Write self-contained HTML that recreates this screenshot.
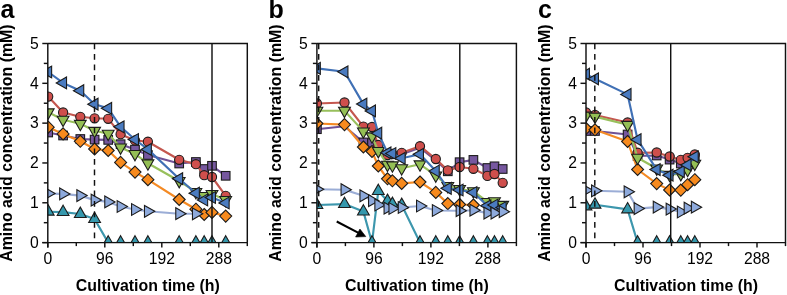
<!DOCTYPE html><html><head><meta charset="utf-8"><style>
html,body{margin:0;padding:0;background:#fff;width:787px;height:295px;overflow:hidden}
svg{display:block;will-change:transform} text{font-family:'Liberation Sans', sans-serif;fill:#000}
.tk{font-size:15.7px}.tt{font-size:15.9px;font-weight:bold}.yt{font-size:15.9px;font-weight:bold}.pl{font-size:25px;font-weight:bold}
</style></head><body>
<svg width="787" height="295" viewBox="0 0 787 295">
<clipPath id="clipa"><rect x="47.80" y="33.50" width="209.50" height="208.40"/></clipPath>
<clipPath id="clipLa"><rect x="47.80" y="33.50" width="209.50" height="207.85"/></clipPath>
<clipPath id="clipb"><rect x="316.90" y="33.50" width="209.50" height="208.40"/></clipPath>
<clipPath id="clipLb"><rect x="316.90" y="33.50" width="209.50" height="207.85"/></clipPath>
<clipPath id="clipc"><rect x="586.00" y="33.50" width="209.50" height="208.40"/></clipPath>
<clipPath id="clipLc"><rect x="586.00" y="33.50" width="209.50" height="207.85"/></clipPath>
<g clip-path="url(#clipa)">
<path d="M48.20 211.70L63.10 212.10L80.30 214.00L94.60 219.10L108.20 242.60L120.60 242.60L135.00 242.60L147.90 242.60L179.20 242.60L195.90 242.60L204.20 242.60L212.00 242.60L225.70 242.60" fill="none" stroke="#3d97ad" stroke-width="2.15" stroke-linejoin="round" clip-path="url(#clipLa)"/>
<path d="M48.20 204.83L54.10 215.13L42.30 215.13Z" fill="#3598ad" stroke="#1c1c1c" stroke-width="1.1" stroke-linejoin="miter"/>
<path d="M63.10 205.23L69.00 215.53L57.20 215.53Z" fill="#3598ad" stroke="#1c1c1c" stroke-width="1.1" stroke-linejoin="miter"/>
<path d="M80.30 207.13L86.20 217.43L74.40 217.43Z" fill="#3598ad" stroke="#1c1c1c" stroke-width="1.1" stroke-linejoin="miter"/>
<path d="M94.60 212.23L100.50 222.53L88.70 222.53Z" fill="#3598ad" stroke="#1c1c1c" stroke-width="1.1" stroke-linejoin="miter"/>
<path d="M108.20 235.73L114.10 246.03L102.30 246.03Z" fill="#3598ad" stroke="#1c1c1c" stroke-width="1.1" stroke-linejoin="miter"/>
<path d="M120.60 235.73L126.50 246.03L114.70 246.03Z" fill="#3598ad" stroke="#1c1c1c" stroke-width="1.1" stroke-linejoin="miter"/>
<path d="M135.00 235.73L140.90 246.03L129.10 246.03Z" fill="#3598ad" stroke="#1c1c1c" stroke-width="1.1" stroke-linejoin="miter"/>
<path d="M147.90 235.73L153.80 246.03L142.00 246.03Z" fill="#3598ad" stroke="#1c1c1c" stroke-width="1.1" stroke-linejoin="miter"/>
<path d="M179.20 235.73L185.10 246.03L173.30 246.03Z" fill="#3598ad" stroke="#1c1c1c" stroke-width="1.1" stroke-linejoin="miter"/>
<path d="M195.90 235.73L201.80 246.03L190.00 246.03Z" fill="#3598ad" stroke="#1c1c1c" stroke-width="1.1" stroke-linejoin="miter"/>
<path d="M204.20 235.73L210.10 246.03L198.30 246.03Z" fill="#3598ad" stroke="#1c1c1c" stroke-width="1.1" stroke-linejoin="miter"/>
<path d="M212.00 235.73L217.90 246.03L206.10 246.03Z" fill="#3598ad" stroke="#1c1c1c" stroke-width="1.1" stroke-linejoin="miter"/>
<path d="M225.70 235.73L231.60 246.03L219.80 246.03Z" fill="#3598ad" stroke="#1c1c1c" stroke-width="1.1" stroke-linejoin="miter"/>
<path d="M48.20 132.50L63.10 135.50L80.30 139.00L94.60 139.60L108.20 139.90L120.60 144.20L135.00 149.60L147.90 155.00L179.20 163.50L195.90 162.00L204.20 169.00L212.00 165.80L225.70 175.80" fill="none" stroke="#6f5296" stroke-width="2.15" stroke-linejoin="round" clip-path="url(#clipLa)"/>
<rect x="43.90" y="128.20" width="8.60" height="8.60" fill="#76579f" stroke="#1c1c1c" stroke-width="1.1"/>
<rect x="58.80" y="131.20" width="8.60" height="8.60" fill="#76579f" stroke="#1c1c1c" stroke-width="1.1"/>
<rect x="76.00" y="134.70" width="8.60" height="8.60" fill="#76579f" stroke="#1c1c1c" stroke-width="1.1"/>
<rect x="90.30" y="135.30" width="8.60" height="8.60" fill="#76579f" stroke="#1c1c1c" stroke-width="1.1"/>
<rect x="103.90" y="135.60" width="8.60" height="8.60" fill="#76579f" stroke="#1c1c1c" stroke-width="1.1"/>
<rect x="116.30" y="139.90" width="8.60" height="8.60" fill="#76579f" stroke="#1c1c1c" stroke-width="1.1"/>
<rect x="130.70" y="145.30" width="8.60" height="8.60" fill="#76579f" stroke="#1c1c1c" stroke-width="1.1"/>
<rect x="143.60" y="150.70" width="8.60" height="8.60" fill="#76579f" stroke="#1c1c1c" stroke-width="1.1"/>
<rect x="174.90" y="159.20" width="8.60" height="8.60" fill="#76579f" stroke="#1c1c1c" stroke-width="1.1"/>
<rect x="191.60" y="157.70" width="8.60" height="8.60" fill="#76579f" stroke="#1c1c1c" stroke-width="1.1"/>
<rect x="199.90" y="164.70" width="8.60" height="8.60" fill="#76579f" stroke="#1c1c1c" stroke-width="1.1"/>
<rect x="207.70" y="161.50" width="8.60" height="8.60" fill="#76579f" stroke="#1c1c1c" stroke-width="1.1"/>
<rect x="221.40" y="171.50" width="8.60" height="8.60" fill="#76579f" stroke="#1c1c1c" stroke-width="1.1"/>
<path d="M48.20 127.20L63.10 133.90L80.30 141.30L94.60 149.00L108.20 150.50L120.60 162.40L135.00 172.10L147.90 179.70L179.20 199.50L195.90 209.20L204.20 214.50L212.00 212.40L225.70 216.10" fill="none" stroke="#f48a24" stroke-width="2.15" stroke-linejoin="round" clip-path="url(#clipLa)"/>
<path d="M48.20 121.20L54.20 127.20L48.20 133.20L42.20 127.20Z" fill="#f78a1d" stroke="#1c1c1c" stroke-width="1.1" stroke-linejoin="miter"/>
<path d="M63.10 127.90L69.10 133.90L63.10 139.90L57.10 133.90Z" fill="#f78a1d" stroke="#1c1c1c" stroke-width="1.1" stroke-linejoin="miter"/>
<path d="M80.30 135.30L86.30 141.30L80.30 147.30L74.30 141.30Z" fill="#f78a1d" stroke="#1c1c1c" stroke-width="1.1" stroke-linejoin="miter"/>
<path d="M94.60 143.00L100.60 149.00L94.60 155.00L88.60 149.00Z" fill="#f78a1d" stroke="#1c1c1c" stroke-width="1.1" stroke-linejoin="miter"/>
<path d="M108.20 144.50L114.20 150.50L108.20 156.50L102.20 150.50Z" fill="#f78a1d" stroke="#1c1c1c" stroke-width="1.1" stroke-linejoin="miter"/>
<path d="M120.60 156.40L126.60 162.40L120.60 168.40L114.60 162.40Z" fill="#f78a1d" stroke="#1c1c1c" stroke-width="1.1" stroke-linejoin="miter"/>
<path d="M135.00 166.10L141.00 172.10L135.00 178.10L129.00 172.10Z" fill="#f78a1d" stroke="#1c1c1c" stroke-width="1.1" stroke-linejoin="miter"/>
<path d="M147.90 173.70L153.90 179.70L147.90 185.70L141.90 179.70Z" fill="#f78a1d" stroke="#1c1c1c" stroke-width="1.1" stroke-linejoin="miter"/>
<path d="M179.20 193.50L185.20 199.50L179.20 205.50L173.20 199.50Z" fill="#f78a1d" stroke="#1c1c1c" stroke-width="1.1" stroke-linejoin="miter"/>
<path d="M195.90 203.20L201.90 209.20L195.90 215.20L189.90 209.20Z" fill="#f78a1d" stroke="#1c1c1c" stroke-width="1.1" stroke-linejoin="miter"/>
<path d="M204.20 208.50L210.20 214.50L204.20 220.50L198.20 214.50Z" fill="#f78a1d" stroke="#1c1c1c" stroke-width="1.1" stroke-linejoin="miter"/>
<path d="M212.00 206.40L218.00 212.40L212.00 218.40L206.00 212.40Z" fill="#f78a1d" stroke="#1c1c1c" stroke-width="1.1" stroke-linejoin="miter"/>
<path d="M225.70 210.10L231.70 216.10L225.70 222.10L219.70 216.10Z" fill="#f78a1d" stroke="#1c1c1c" stroke-width="1.1" stroke-linejoin="miter"/>
<path d="M48.20 96.60L63.10 112.50L80.30 116.80L94.60 118.30L108.20 118.80L120.60 134.20L135.00 140.40L147.90 141.70L179.20 159.80L195.90 164.20L204.20 175.20L212.00 177.00L225.70 195.80" fill="none" stroke="#c4574f" stroke-width="2.15" stroke-linejoin="round" clip-path="url(#clipLa)"/>
<circle cx="48.20" cy="96.60" r="4.6" fill="#cf4f4c" stroke="#1c1c1c" stroke-width="1.1"/>
<circle cx="63.10" cy="112.50" r="4.6" fill="#cf4f4c" stroke="#1c1c1c" stroke-width="1.1"/>
<circle cx="80.30" cy="116.80" r="4.6" fill="#cf4f4c" stroke="#1c1c1c" stroke-width="1.1"/>
<circle cx="94.60" cy="118.30" r="4.6" fill="#cf4f4c" stroke="#1c1c1c" stroke-width="1.1"/>
<circle cx="108.20" cy="118.80" r="4.6" fill="#cf4f4c" stroke="#1c1c1c" stroke-width="1.1"/>
<circle cx="120.60" cy="134.20" r="4.6" fill="#cf4f4c" stroke="#1c1c1c" stroke-width="1.1"/>
<circle cx="135.00" cy="140.40" r="4.6" fill="#cf4f4c" stroke="#1c1c1c" stroke-width="1.1"/>
<circle cx="147.90" cy="141.70" r="4.6" fill="#cf4f4c" stroke="#1c1c1c" stroke-width="1.1"/>
<circle cx="179.20" cy="159.80" r="4.6" fill="#cf4f4c" stroke="#1c1c1c" stroke-width="1.1"/>
<circle cx="195.90" cy="164.20" r="4.6" fill="#cf4f4c" stroke="#1c1c1c" stroke-width="1.1"/>
<circle cx="204.20" cy="175.20" r="4.6" fill="#cf4f4c" stroke="#1c1c1c" stroke-width="1.1"/>
<circle cx="212.00" cy="177.00" r="4.6" fill="#cf4f4c" stroke="#1c1c1c" stroke-width="1.1"/>
<circle cx="225.70" cy="195.80" r="4.6" fill="#cf4f4c" stroke="#1c1c1c" stroke-width="1.1"/>
<path d="M48.20 112.30L63.10 119.70L80.30 123.80L94.60 130.80L108.20 133.70L120.60 147.40L135.00 153.90L147.90 163.30L179.20 181.00L195.90 191.90L204.20 196.00L212.00 193.90L225.70 200.00" fill="none" stroke="#98c05c" stroke-width="2.15" stroke-linejoin="round" clip-path="url(#clipLa)"/>
<path d="M48.20 119.17L54.10 108.87L42.30 108.87Z" fill="#94bf55" stroke="#1c1c1c" stroke-width="1.1" stroke-linejoin="miter"/>
<path d="M63.10 126.57L69.00 116.27L57.20 116.27Z" fill="#94bf55" stroke="#1c1c1c" stroke-width="1.1" stroke-linejoin="miter"/>
<path d="M80.30 130.67L86.20 120.37L74.40 120.37Z" fill="#94bf55" stroke="#1c1c1c" stroke-width="1.1" stroke-linejoin="miter"/>
<path d="M94.60 137.67L100.50 127.37L88.70 127.37Z" fill="#94bf55" stroke="#1c1c1c" stroke-width="1.1" stroke-linejoin="miter"/>
<path d="M108.20 140.57L114.10 130.27L102.30 130.27Z" fill="#94bf55" stroke="#1c1c1c" stroke-width="1.1" stroke-linejoin="miter"/>
<path d="M120.60 154.27L126.50 143.97L114.70 143.97Z" fill="#94bf55" stroke="#1c1c1c" stroke-width="1.1" stroke-linejoin="miter"/>
<path d="M135.00 160.77L140.90 150.47L129.10 150.47Z" fill="#94bf55" stroke="#1c1c1c" stroke-width="1.1" stroke-linejoin="miter"/>
<path d="M147.90 170.17L153.80 159.87L142.00 159.87Z" fill="#94bf55" stroke="#1c1c1c" stroke-width="1.1" stroke-linejoin="miter"/>
<path d="M179.20 187.87L185.10 177.57L173.30 177.57Z" fill="#94bf55" stroke="#1c1c1c" stroke-width="1.1" stroke-linejoin="miter"/>
<path d="M195.90 198.77L201.80 188.47L190.00 188.47Z" fill="#94bf55" stroke="#1c1c1c" stroke-width="1.1" stroke-linejoin="miter"/>
<path d="M204.20 202.87L210.10 192.57L198.30 192.57Z" fill="#94bf55" stroke="#1c1c1c" stroke-width="1.1" stroke-linejoin="miter"/>
<path d="M212.00 200.77L217.90 190.47L206.10 190.47Z" fill="#94bf55" stroke="#1c1c1c" stroke-width="1.1" stroke-linejoin="miter"/>
<path d="M225.70 206.87L231.60 196.57L219.80 196.57Z" fill="#94bf55" stroke="#1c1c1c" stroke-width="1.1" stroke-linejoin="miter"/>
<path d="M48.20 72.00L63.10 82.90L80.30 90.70L94.60 104.20L108.20 108.30L120.60 126.80L135.00 139.50L147.90 149.40L179.20 178.70L195.90 193.20L204.20 200.00L212.00 197.50L225.70 203.00" fill="none" stroke="#4070b5" stroke-width="2.15" stroke-linejoin="round" clip-path="url(#clipLa)"/>
<path d="M41.33 72.00L51.63 66.10L51.63 77.90Z" fill="#4a7bc0" stroke="#1c1c1c" stroke-width="1.1" stroke-linejoin="miter"/>
<path d="M56.23 82.90L66.53 77.00L66.53 88.80Z" fill="#4a7bc0" stroke="#1c1c1c" stroke-width="1.1" stroke-linejoin="miter"/>
<path d="M73.43 90.70L83.73 84.80L83.73 96.60Z" fill="#4a7bc0" stroke="#1c1c1c" stroke-width="1.1" stroke-linejoin="miter"/>
<path d="M87.73 104.20L98.03 98.30L98.03 110.10Z" fill="#4a7bc0" stroke="#1c1c1c" stroke-width="1.1" stroke-linejoin="miter"/>
<path d="M101.33 108.30L111.63 102.40L111.63 114.20Z" fill="#4a7bc0" stroke="#1c1c1c" stroke-width="1.1" stroke-linejoin="miter"/>
<path d="M113.73 126.80L124.03 120.90L124.03 132.70Z" fill="#4a7bc0" stroke="#1c1c1c" stroke-width="1.1" stroke-linejoin="miter"/>
<path d="M128.13 139.50L138.43 133.60L138.43 145.40Z" fill="#4a7bc0" stroke="#1c1c1c" stroke-width="1.1" stroke-linejoin="miter"/>
<path d="M141.03 149.40L151.33 143.50L151.33 155.30Z" fill="#4a7bc0" stroke="#1c1c1c" stroke-width="1.1" stroke-linejoin="miter"/>
<path d="M172.33 178.70L182.63 172.80L182.63 184.60Z" fill="#4a7bc0" stroke="#1c1c1c" stroke-width="1.1" stroke-linejoin="miter"/>
<path d="M189.03 193.20L199.33 187.30L199.33 199.10Z" fill="#4a7bc0" stroke="#1c1c1c" stroke-width="1.1" stroke-linejoin="miter"/>
<path d="M197.33 200.00L207.63 194.10L207.63 205.90Z" fill="#4a7bc0" stroke="#1c1c1c" stroke-width="1.1" stroke-linejoin="miter"/>
<path d="M205.13 197.50L215.43 191.60L215.43 203.40Z" fill="#4a7bc0" stroke="#1c1c1c" stroke-width="1.1" stroke-linejoin="miter"/>
<path d="M218.83 203.00L229.13 197.10L229.13 208.90Z" fill="#4a7bc0" stroke="#1c1c1c" stroke-width="1.1" stroke-linejoin="miter"/>
<path d="M48.20 193.60L63.10 193.90L80.30 195.60L94.60 200.10L108.20 201.90L120.60 206.50L135.00 209.50L147.90 211.30L179.20 213.70L195.90 213.80" fill="none" stroke="#9badd6" stroke-width="2.15" stroke-linejoin="round" clip-path="url(#clipLa)"/>
<path d="M55.07 193.60L44.77 187.70L44.77 199.50Z" fill="#8eaadc" stroke="#1c1c1c" stroke-width="1.1" stroke-linejoin="miter"/>
<path d="M69.97 193.90L59.67 188.00L59.67 199.80Z" fill="#8eaadc" stroke="#1c1c1c" stroke-width="1.1" stroke-linejoin="miter"/>
<path d="M87.17 195.60L76.87 189.70L76.87 201.50Z" fill="#8eaadc" stroke="#1c1c1c" stroke-width="1.1" stroke-linejoin="miter"/>
<path d="M101.47 200.10L91.17 194.20L91.17 206.00Z" fill="#8eaadc" stroke="#1c1c1c" stroke-width="1.1" stroke-linejoin="miter"/>
<path d="M115.07 201.90L104.77 196.00L104.77 207.80Z" fill="#8eaadc" stroke="#1c1c1c" stroke-width="1.1" stroke-linejoin="miter"/>
<path d="M127.47 206.50L117.17 200.60L117.17 212.40Z" fill="#8eaadc" stroke="#1c1c1c" stroke-width="1.1" stroke-linejoin="miter"/>
<path d="M141.87 209.50L131.57 203.60L131.57 215.40Z" fill="#8eaadc" stroke="#1c1c1c" stroke-width="1.1" stroke-linejoin="miter"/>
<path d="M154.77 211.30L144.47 205.40L144.47 217.20Z" fill="#8eaadc" stroke="#1c1c1c" stroke-width="1.1" stroke-linejoin="miter"/>
<path d="M186.07 213.70L175.77 207.80L175.77 219.60Z" fill="#8eaadc" stroke="#1c1c1c" stroke-width="1.1" stroke-linejoin="miter"/>
<path d="M202.77 213.80L192.47 207.90L192.47 219.70Z" fill="#8eaadc" stroke="#1c1c1c" stroke-width="1.1" stroke-linejoin="miter"/>
</g><g clip-path="url(#clipb)">
<path d="M316.90 205.00L344.50 204.10L363.40 211.60L372.00 242.60L378.30 191.10L387.50 201.00L392.40 204.00L401.70 205.00L420.00 242.60L435.80 242.60L447.80 242.60L459.60 242.60L473.40 242.60L487.40 242.60L494.50 242.60L502.70 242.60" fill="none" stroke="#3d97ad" stroke-width="2.15" stroke-linejoin="round" clip-path="url(#clipLb)"/>
<path d="M316.90 198.13L322.80 208.43L311.00 208.43Z" fill="#3598ad" stroke="#1c1c1c" stroke-width="1.1" stroke-linejoin="miter"/>
<path d="M344.50 197.23L350.40 207.53L338.60 207.53Z" fill="#3598ad" stroke="#1c1c1c" stroke-width="1.1" stroke-linejoin="miter"/>
<path d="M363.40 204.73L369.30 215.03L357.50 215.03Z" fill="#3598ad" stroke="#1c1c1c" stroke-width="1.1" stroke-linejoin="miter"/>
<path d="M372.00 235.73L377.90 246.03L366.10 246.03Z" fill="#3598ad" stroke="#1c1c1c" stroke-width="1.1" stroke-linejoin="miter"/>
<path d="M378.30 184.23L384.20 194.53L372.40 194.53Z" fill="#3598ad" stroke="#1c1c1c" stroke-width="1.1" stroke-linejoin="miter"/>
<path d="M387.50 194.13L393.40 204.43L381.60 204.43Z" fill="#3598ad" stroke="#1c1c1c" stroke-width="1.1" stroke-linejoin="miter"/>
<path d="M392.40 197.13L398.30 207.43L386.50 207.43Z" fill="#3598ad" stroke="#1c1c1c" stroke-width="1.1" stroke-linejoin="miter"/>
<path d="M401.70 198.13L407.60 208.43L395.80 208.43Z" fill="#3598ad" stroke="#1c1c1c" stroke-width="1.1" stroke-linejoin="miter"/>
<path d="M420.00 235.73L425.90 246.03L414.10 246.03Z" fill="#3598ad" stroke="#1c1c1c" stroke-width="1.1" stroke-linejoin="miter"/>
<path d="M435.80 235.73L441.70 246.03L429.90 246.03Z" fill="#3598ad" stroke="#1c1c1c" stroke-width="1.1" stroke-linejoin="miter"/>
<path d="M447.80 235.73L453.70 246.03L441.90 246.03Z" fill="#3598ad" stroke="#1c1c1c" stroke-width="1.1" stroke-linejoin="miter"/>
<path d="M459.60 235.73L465.50 246.03L453.70 246.03Z" fill="#3598ad" stroke="#1c1c1c" stroke-width="1.1" stroke-linejoin="miter"/>
<path d="M473.40 235.73L479.30 246.03L467.50 246.03Z" fill="#3598ad" stroke="#1c1c1c" stroke-width="1.1" stroke-linejoin="miter"/>
<path d="M487.40 235.73L493.30 246.03L481.50 246.03Z" fill="#3598ad" stroke="#1c1c1c" stroke-width="1.1" stroke-linejoin="miter"/>
<path d="M494.50 235.73L500.40 246.03L488.60 246.03Z" fill="#3598ad" stroke="#1c1c1c" stroke-width="1.1" stroke-linejoin="miter"/>
<path d="M502.70 235.73L508.60 246.03L496.80 246.03Z" fill="#3598ad" stroke="#1c1c1c" stroke-width="1.1" stroke-linejoin="miter"/>
<path d="M316.90 129.20L344.50 126.30L363.40 142.40L372.00 143.00L378.30 146.50L387.50 156.50L392.40 155.50L401.70 154.30L420.00 147.70L435.80 160.50L447.80 171.30L459.60 162.20L473.40 159.90L487.40 168.00L494.50 166.30L502.70 169.00" fill="none" stroke="#6f5296" stroke-width="2.15" stroke-linejoin="round" clip-path="url(#clipLb)"/>
<rect x="312.60" y="124.90" width="8.60" height="8.60" fill="#76579f" stroke="#1c1c1c" stroke-width="1.1"/>
<rect x="359.10" y="138.10" width="8.60" height="8.60" fill="#76579f" stroke="#1c1c1c" stroke-width="1.1"/>
<rect x="367.70" y="138.70" width="8.60" height="8.60" fill="#76579f" stroke="#1c1c1c" stroke-width="1.1"/>
<rect x="443.50" y="167.00" width="8.60" height="8.60" fill="#76579f" stroke="#1c1c1c" stroke-width="1.1"/>
<rect x="455.30" y="157.90" width="8.60" height="8.60" fill="#76579f" stroke="#1c1c1c" stroke-width="1.1"/>
<rect x="469.10" y="155.60" width="8.60" height="8.60" fill="#76579f" stroke="#1c1c1c" stroke-width="1.1"/>
<rect x="483.10" y="163.70" width="8.60" height="8.60" fill="#76579f" stroke="#1c1c1c" stroke-width="1.1"/>
<rect x="490.20" y="162.00" width="8.60" height="8.60" fill="#76579f" stroke="#1c1c1c" stroke-width="1.1"/>
<rect x="498.40" y="164.70" width="8.60" height="8.60" fill="#76579f" stroke="#1c1c1c" stroke-width="1.1"/>
<path d="M316.90 123.50L344.50 124.60L363.40 147.00L372.00 151.50L378.30 166.00L387.50 178.80L392.40 180.80L401.70 183.40L420.00 182.00L435.80 192.40L447.80 203.60L459.60 204.50L473.40 205.00" fill="none" stroke="#f48a24" stroke-width="2.15" stroke-linejoin="round" clip-path="url(#clipLb)"/>
<path d="M316.90 117.50L322.90 123.50L316.90 129.50L310.90 123.50Z" fill="#f78a1d" stroke="#1c1c1c" stroke-width="1.1" stroke-linejoin="miter"/>
<path d="M344.50 118.60L350.50 124.60L344.50 130.60L338.50 124.60Z" fill="#f78a1d" stroke="#1c1c1c" stroke-width="1.1" stroke-linejoin="miter"/>
<path d="M363.40 141.00L369.40 147.00L363.40 153.00L357.40 147.00Z" fill="#f78a1d" stroke="#1c1c1c" stroke-width="1.1" stroke-linejoin="miter"/>
<path d="M372.00 145.50L378.00 151.50L372.00 157.50L366.00 151.50Z" fill="#f78a1d" stroke="#1c1c1c" stroke-width="1.1" stroke-linejoin="miter"/>
<path d="M378.30 160.00L384.30 166.00L378.30 172.00L372.30 166.00Z" fill="#f78a1d" stroke="#1c1c1c" stroke-width="1.1" stroke-linejoin="miter"/>
<path d="M387.50 172.80L393.50 178.80L387.50 184.80L381.50 178.80Z" fill="#f78a1d" stroke="#1c1c1c" stroke-width="1.1" stroke-linejoin="miter"/>
<path d="M392.40 174.80L398.40 180.80L392.40 186.80L386.40 180.80Z" fill="#f78a1d" stroke="#1c1c1c" stroke-width="1.1" stroke-linejoin="miter"/>
<path d="M401.70 177.40L407.70 183.40L401.70 189.40L395.70 183.40Z" fill="#f78a1d" stroke="#1c1c1c" stroke-width="1.1" stroke-linejoin="miter"/>
<path d="M420.00 176.00L426.00 182.00L420.00 188.00L414.00 182.00Z" fill="#f78a1d" stroke="#1c1c1c" stroke-width="1.1" stroke-linejoin="miter"/>
<path d="M435.80 186.40L441.80 192.40L435.80 198.40L429.80 192.40Z" fill="#f78a1d" stroke="#1c1c1c" stroke-width="1.1" stroke-linejoin="miter"/>
<path d="M447.80 197.60L453.80 203.60L447.80 209.60L441.80 203.60Z" fill="#f78a1d" stroke="#1c1c1c" stroke-width="1.1" stroke-linejoin="miter"/>
<path d="M459.60 198.50L465.60 204.50L459.60 210.50L453.60 204.50Z" fill="#f78a1d" stroke="#1c1c1c" stroke-width="1.1" stroke-linejoin="miter"/>
<path d="M473.40 199.00L479.40 205.00L473.40 211.00L467.40 205.00Z" fill="#f78a1d" stroke="#1c1c1c" stroke-width="1.1" stroke-linejoin="miter"/>
<path d="M316.90 103.50L344.50 102.50L363.40 126.60L372.00 127.00L378.30 145.00L387.50 155.00L392.40 154.00L401.70 152.80L420.00 146.20L435.80 159.00L447.80 170.40L459.60 167.00L473.40 168.80L487.40 175.90L494.50 174.00L502.70 182.80" fill="none" stroke="#c4574f" stroke-width="2.15" stroke-linejoin="round" clip-path="url(#clipLb)"/>
<circle cx="316.90" cy="103.50" r="4.6" fill="#cf4f4c" stroke="#1c1c1c" stroke-width="1.1"/>
<circle cx="344.50" cy="102.50" r="4.6" fill="#cf4f4c" stroke="#1c1c1c" stroke-width="1.1"/>
<circle cx="363.40" cy="126.60" r="4.6" fill="#cf4f4c" stroke="#1c1c1c" stroke-width="1.1"/>
<circle cx="372.00" cy="127.00" r="4.6" fill="#cf4f4c" stroke="#1c1c1c" stroke-width="1.1"/>
<circle cx="378.30" cy="145.00" r="4.6" fill="#cf4f4c" stroke="#1c1c1c" stroke-width="1.1"/>
<circle cx="387.50" cy="155.00" r="4.6" fill="#cf4f4c" stroke="#1c1c1c" stroke-width="1.1"/>
<circle cx="392.40" cy="154.00" r="4.6" fill="#cf4f4c" stroke="#1c1c1c" stroke-width="1.1"/>
<circle cx="401.70" cy="152.80" r="4.6" fill="#cf4f4c" stroke="#1c1c1c" stroke-width="1.1"/>
<circle cx="420.00" cy="146.20" r="4.6" fill="#cf4f4c" stroke="#1c1c1c" stroke-width="1.1"/>
<circle cx="435.80" cy="159.00" r="4.6" fill="#cf4f4c" stroke="#1c1c1c" stroke-width="1.1"/>
<circle cx="447.80" cy="170.40" r="4.6" fill="#cf4f4c" stroke="#1c1c1c" stroke-width="1.1"/>
<circle cx="459.60" cy="167.00" r="4.6" fill="#cf4f4c" stroke="#1c1c1c" stroke-width="1.1"/>
<circle cx="473.40" cy="168.80" r="4.6" fill="#cf4f4c" stroke="#1c1c1c" stroke-width="1.1"/>
<circle cx="487.40" cy="175.90" r="4.6" fill="#cf4f4c" stroke="#1c1c1c" stroke-width="1.1"/>
<circle cx="494.50" cy="174.00" r="4.6" fill="#cf4f4c" stroke="#1c1c1c" stroke-width="1.1"/>
<circle cx="502.70" cy="182.80" r="4.6" fill="#cf4f4c" stroke="#1c1c1c" stroke-width="1.1"/>
<path d="M316.90 110.70L344.50 110.70L363.40 131.40L372.00 136.30L378.30 151.00L387.50 164.70L392.40 165.30L401.70 168.20L420.00 164.30L435.80 175.40L447.80 186.00L459.60 189.00L473.40 191.20L487.40 201.90L494.50 201.20L502.70 204.80" fill="none" stroke="#98c05c" stroke-width="2.15" stroke-linejoin="round" clip-path="url(#clipLb)"/>
<path d="M316.90 117.57L322.80 107.27L311.00 107.27Z" fill="#94bf55" stroke="#1c1c1c" stroke-width="1.1" stroke-linejoin="miter"/>
<path d="M344.50 117.57L350.40 107.27L338.60 107.27Z" fill="#94bf55" stroke="#1c1c1c" stroke-width="1.1" stroke-linejoin="miter"/>
<path d="M363.40 138.27L369.30 127.97L357.50 127.97Z" fill="#94bf55" stroke="#1c1c1c" stroke-width="1.1" stroke-linejoin="miter"/>
<path d="M372.00 143.17L377.90 132.87L366.10 132.87Z" fill="#94bf55" stroke="#1c1c1c" stroke-width="1.1" stroke-linejoin="miter"/>
<path d="M378.30 157.87L384.20 147.57L372.40 147.57Z" fill="#94bf55" stroke="#1c1c1c" stroke-width="1.1" stroke-linejoin="miter"/>
<path d="M387.50 171.57L393.40 161.27L381.60 161.27Z" fill="#94bf55" stroke="#1c1c1c" stroke-width="1.1" stroke-linejoin="miter"/>
<path d="M392.40 172.17L398.30 161.87L386.50 161.87Z" fill="#94bf55" stroke="#1c1c1c" stroke-width="1.1" stroke-linejoin="miter"/>
<path d="M401.70 175.07L407.60 164.77L395.80 164.77Z" fill="#94bf55" stroke="#1c1c1c" stroke-width="1.1" stroke-linejoin="miter"/>
<path d="M420.00 171.17L425.90 160.87L414.10 160.87Z" fill="#94bf55" stroke="#1c1c1c" stroke-width="1.1" stroke-linejoin="miter"/>
<path d="M435.80 182.27L441.70 171.97L429.90 171.97Z" fill="#94bf55" stroke="#1c1c1c" stroke-width="1.1" stroke-linejoin="miter"/>
<path d="M447.80 192.87L453.70 182.57L441.90 182.57Z" fill="#94bf55" stroke="#1c1c1c" stroke-width="1.1" stroke-linejoin="miter"/>
<path d="M459.60 195.87L465.50 185.57L453.70 185.57Z" fill="#94bf55" stroke="#1c1c1c" stroke-width="1.1" stroke-linejoin="miter"/>
<path d="M473.40 198.07L479.30 187.77L467.50 187.77Z" fill="#94bf55" stroke="#1c1c1c" stroke-width="1.1" stroke-linejoin="miter"/>
<path d="M487.40 208.77L493.30 198.47L481.50 198.47Z" fill="#94bf55" stroke="#1c1c1c" stroke-width="1.1" stroke-linejoin="miter"/>
<path d="M494.50 208.07L500.40 197.77L488.60 197.77Z" fill="#94bf55" stroke="#1c1c1c" stroke-width="1.1" stroke-linejoin="miter"/>
<path d="M502.70 211.67L508.60 201.37L496.80 201.37Z" fill="#94bf55" stroke="#1c1c1c" stroke-width="1.1" stroke-linejoin="miter"/>
<path d="M316.90 68.40L344.50 71.80L363.40 104.10L372.00 110.90L378.30 133.20L387.50 152.80L392.40 153.50L401.70 158.30L420.00 154.30L435.80 171.00L447.80 188.30L459.60 190.00L473.40 192.50L487.40 205.80L494.50 205.00L502.70 207.50" fill="none" stroke="#4070b5" stroke-width="2.15" stroke-linejoin="round" clip-path="url(#clipLb)"/>
<path d="M310.03 68.40L320.33 62.50L320.33 74.30Z" fill="#4a7bc0" stroke="#1c1c1c" stroke-width="1.1" stroke-linejoin="miter"/>
<path d="M337.63 71.80L347.93 65.90L347.93 77.70Z" fill="#4a7bc0" stroke="#1c1c1c" stroke-width="1.1" stroke-linejoin="miter"/>
<path d="M356.53 104.10L366.83 98.20L366.83 110.00Z" fill="#4a7bc0" stroke="#1c1c1c" stroke-width="1.1" stroke-linejoin="miter"/>
<path d="M365.13 110.90L375.43 105.00L375.43 116.80Z" fill="#4a7bc0" stroke="#1c1c1c" stroke-width="1.1" stroke-linejoin="miter"/>
<path d="M371.43 133.20L381.73 127.30L381.73 139.10Z" fill="#4a7bc0" stroke="#1c1c1c" stroke-width="1.1" stroke-linejoin="miter"/>
<path d="M380.63 152.80L390.93 146.90L390.93 158.70Z" fill="#4a7bc0" stroke="#1c1c1c" stroke-width="1.1" stroke-linejoin="miter"/>
<path d="M385.53 153.50L395.83 147.60L395.83 159.40Z" fill="#4a7bc0" stroke="#1c1c1c" stroke-width="1.1" stroke-linejoin="miter"/>
<path d="M394.83 158.30L405.13 152.40L405.13 164.20Z" fill="#4a7bc0" stroke="#1c1c1c" stroke-width="1.1" stroke-linejoin="miter"/>
<path d="M413.13 154.30L423.43 148.40L423.43 160.20Z" fill="#4a7bc0" stroke="#1c1c1c" stroke-width="1.1" stroke-linejoin="miter"/>
<path d="M428.93 171.00L439.23 165.10L439.23 176.90Z" fill="#4a7bc0" stroke="#1c1c1c" stroke-width="1.1" stroke-linejoin="miter"/>
<path d="M440.93 188.30L451.23 182.40L451.23 194.20Z" fill="#4a7bc0" stroke="#1c1c1c" stroke-width="1.1" stroke-linejoin="miter"/>
<path d="M452.73 190.00L463.03 184.10L463.03 195.90Z" fill="#4a7bc0" stroke="#1c1c1c" stroke-width="1.1" stroke-linejoin="miter"/>
<path d="M466.53 192.50L476.83 186.60L476.83 198.40Z" fill="#4a7bc0" stroke="#1c1c1c" stroke-width="1.1" stroke-linejoin="miter"/>
<path d="M480.53 205.80L490.83 199.90L490.83 211.70Z" fill="#4a7bc0" stroke="#1c1c1c" stroke-width="1.1" stroke-linejoin="miter"/>
<path d="M487.63 205.00L497.93 199.10L497.93 210.90Z" fill="#4a7bc0" stroke="#1c1c1c" stroke-width="1.1" stroke-linejoin="miter"/>
<path d="M495.83 207.50L506.13 201.60L506.13 213.40Z" fill="#4a7bc0" stroke="#1c1c1c" stroke-width="1.1" stroke-linejoin="miter"/>
<path d="M316.90 189.20L344.50 189.70L363.40 195.80L372.00 200.70L378.30 205.00L387.50 208.20L392.40 208.50L401.70 207.50L420.00 206.00L435.80 210.50L459.60 210.70L473.40 210.20L487.40 213.10L494.50 213.10L502.70 211.70" fill="none" stroke="#9badd6" stroke-width="2.15" stroke-linejoin="round" clip-path="url(#clipLb)"/>
<path d="M323.77 189.20L313.47 183.30L313.47 195.10Z" fill="#8eaadc" stroke="#1c1c1c" stroke-width="1.1" stroke-linejoin="miter"/>
<path d="M351.37 189.70L341.07 183.80L341.07 195.60Z" fill="#8eaadc" stroke="#1c1c1c" stroke-width="1.1" stroke-linejoin="miter"/>
<path d="M370.27 195.80L359.97 189.90L359.97 201.70Z" fill="#8eaadc" stroke="#1c1c1c" stroke-width="1.1" stroke-linejoin="miter"/>
<path d="M378.87 200.70L368.57 194.80L368.57 206.60Z" fill="#8eaadc" stroke="#1c1c1c" stroke-width="1.1" stroke-linejoin="miter"/>
<path d="M385.17 205.00L374.87 199.10L374.87 210.90Z" fill="#8eaadc" stroke="#1c1c1c" stroke-width="1.1" stroke-linejoin="miter"/>
<path d="M394.37 208.20L384.07 202.30L384.07 214.10Z" fill="#8eaadc" stroke="#1c1c1c" stroke-width="1.1" stroke-linejoin="miter"/>
<path d="M399.27 208.50L388.97 202.60L388.97 214.40Z" fill="#8eaadc" stroke="#1c1c1c" stroke-width="1.1" stroke-linejoin="miter"/>
<path d="M408.57 207.50L398.27 201.60L398.27 213.40Z" fill="#8eaadc" stroke="#1c1c1c" stroke-width="1.1" stroke-linejoin="miter"/>
<path d="M426.87 206.00L416.57 200.10L416.57 211.90Z" fill="#8eaadc" stroke="#1c1c1c" stroke-width="1.1" stroke-linejoin="miter"/>
<path d="M442.67 210.50L432.37 204.60L432.37 216.40Z" fill="#8eaadc" stroke="#1c1c1c" stroke-width="1.1" stroke-linejoin="miter"/>
<path d="M466.47 210.70L456.17 204.80L456.17 216.60Z" fill="#8eaadc" stroke="#1c1c1c" stroke-width="1.1" stroke-linejoin="miter"/>
<path d="M480.27 210.20L469.97 204.30L469.97 216.10Z" fill="#8eaadc" stroke="#1c1c1c" stroke-width="1.1" stroke-linejoin="miter"/>
<path d="M494.27 213.10L483.97 207.20L483.97 219.00Z" fill="#8eaadc" stroke="#1c1c1c" stroke-width="1.1" stroke-linejoin="miter"/>
<path d="M501.37 213.10L491.07 207.20L491.07 219.00Z" fill="#8eaadc" stroke="#1c1c1c" stroke-width="1.1" stroke-linejoin="miter"/>
<path d="M509.57 211.70L499.27 205.80L499.27 217.60Z" fill="#8eaadc" stroke="#1c1c1c" stroke-width="1.1" stroke-linejoin="miter"/>
</g><g clip-path="url(#clipc)">
<path d="M586.00 206.40L595.00 204.70L627.60 209.40L637.60 242.60L656.70 242.60L669.60 242.60L680.80 242.60L687.60 242.60L694.80 242.60" fill="none" stroke="#3d97ad" stroke-width="2.15" stroke-linejoin="round" clip-path="url(#clipLc)"/>
<path d="M586.00 199.53L591.90 209.83L580.10 209.83Z" fill="#3598ad" stroke="#1c1c1c" stroke-width="1.1" stroke-linejoin="miter"/>
<path d="M595.00 197.83L600.90 208.13L589.10 208.13Z" fill="#3598ad" stroke="#1c1c1c" stroke-width="1.1" stroke-linejoin="miter"/>
<path d="M627.60 202.53L633.50 212.83L621.70 212.83Z" fill="#3598ad" stroke="#1c1c1c" stroke-width="1.1" stroke-linejoin="miter"/>
<path d="M637.60 235.73L643.50 246.03L631.70 246.03Z" fill="#3598ad" stroke="#1c1c1c" stroke-width="1.1" stroke-linejoin="miter"/>
<path d="M656.70 235.73L662.60 246.03L650.80 246.03Z" fill="#3598ad" stroke="#1c1c1c" stroke-width="1.1" stroke-linejoin="miter"/>
<path d="M669.60 235.73L675.50 246.03L663.70 246.03Z" fill="#3598ad" stroke="#1c1c1c" stroke-width="1.1" stroke-linejoin="miter"/>
<path d="M680.80 235.73L686.70 246.03L674.90 246.03Z" fill="#3598ad" stroke="#1c1c1c" stroke-width="1.1" stroke-linejoin="miter"/>
<path d="M687.60 235.73L693.50 246.03L681.70 246.03Z" fill="#3598ad" stroke="#1c1c1c" stroke-width="1.1" stroke-linejoin="miter"/>
<path d="M694.80 235.73L700.70 246.03L688.90 246.03Z" fill="#3598ad" stroke="#1c1c1c" stroke-width="1.1" stroke-linejoin="miter"/>
<path d="M586.00 131.00L595.00 131.00L627.60 134.50L637.60 156.00L656.70 155.50L669.60 159.60L680.80 163.50L687.60 161.00L694.80 158.00" fill="none" stroke="#6f5296" stroke-width="2.15" stroke-linejoin="round" clip-path="url(#clipLc)"/>
<rect x="581.70" y="126.70" width="8.60" height="8.60" fill="#76579f" stroke="#1c1c1c" stroke-width="1.1"/>
<rect x="590.70" y="126.70" width="8.60" height="8.60" fill="#76579f" stroke="#1c1c1c" stroke-width="1.1"/>
<rect x="623.30" y="130.20" width="8.60" height="8.60" fill="#76579f" stroke="#1c1c1c" stroke-width="1.1"/>
<rect x="633.30" y="151.70" width="8.60" height="8.60" fill="#76579f" stroke="#1c1c1c" stroke-width="1.1"/>
<rect x="652.40" y="151.20" width="8.60" height="8.60" fill="#76579f" stroke="#1c1c1c" stroke-width="1.1"/>
<rect x="665.30" y="155.30" width="8.60" height="8.60" fill="#76579f" stroke="#1c1c1c" stroke-width="1.1"/>
<rect x="676.50" y="159.20" width="8.60" height="8.60" fill="#76579f" stroke="#1c1c1c" stroke-width="1.1"/>
<rect x="683.30" y="156.70" width="8.60" height="8.60" fill="#76579f" stroke="#1c1c1c" stroke-width="1.1"/>
<rect x="690.50" y="153.70" width="8.60" height="8.60" fill="#76579f" stroke="#1c1c1c" stroke-width="1.1"/>
<path d="M586.00 128.50L595.00 129.80L627.60 141.50L637.60 169.50L656.70 183.60L669.60 190.00L680.80 190.10L687.60 184.70L694.80 179.70" fill="none" stroke="#f48a24" stroke-width="2.15" stroke-linejoin="round" clip-path="url(#clipLc)"/>
<path d="M586.00 122.50L592.00 128.50L586.00 134.50L580.00 128.50Z" fill="#f78a1d" stroke="#1c1c1c" stroke-width="1.1" stroke-linejoin="miter"/>
<path d="M595.00 123.80L601.00 129.80L595.00 135.80L589.00 129.80Z" fill="#f78a1d" stroke="#1c1c1c" stroke-width="1.1" stroke-linejoin="miter"/>
<path d="M627.60 135.50L633.60 141.50L627.60 147.50L621.60 141.50Z" fill="#f78a1d" stroke="#1c1c1c" stroke-width="1.1" stroke-linejoin="miter"/>
<path d="M637.60 163.50L643.60 169.50L637.60 175.50L631.60 169.50Z" fill="#f78a1d" stroke="#1c1c1c" stroke-width="1.1" stroke-linejoin="miter"/>
<path d="M656.70 177.60L662.70 183.60L656.70 189.60L650.70 183.60Z" fill="#f78a1d" stroke="#1c1c1c" stroke-width="1.1" stroke-linejoin="miter"/>
<path d="M669.60 184.00L675.60 190.00L669.60 196.00L663.60 190.00Z" fill="#f78a1d" stroke="#1c1c1c" stroke-width="1.1" stroke-linejoin="miter"/>
<path d="M680.80 184.10L686.80 190.10L680.80 196.10L674.80 190.10Z" fill="#f78a1d" stroke="#1c1c1c" stroke-width="1.1" stroke-linejoin="miter"/>
<path d="M687.60 178.70L693.60 184.70L687.60 190.70L681.60 184.70Z" fill="#f78a1d" stroke="#1c1c1c" stroke-width="1.1" stroke-linejoin="miter"/>
<path d="M694.80 173.70L700.80 179.70L694.80 185.70L688.80 179.70Z" fill="#f78a1d" stroke="#1c1c1c" stroke-width="1.1" stroke-linejoin="miter"/>
<path d="M586.00 112.50L595.00 115.00L627.60 122.50L637.60 152.70L656.70 152.50L669.60 156.50L680.80 159.90L687.60 157.80L694.80 154.50" fill="none" stroke="#c4574f" stroke-width="2.15" stroke-linejoin="round" clip-path="url(#clipLc)"/>
<circle cx="586.00" cy="112.50" r="4.6" fill="#cf4f4c" stroke="#1c1c1c" stroke-width="1.1"/>
<circle cx="595.00" cy="115.00" r="4.6" fill="#cf4f4c" stroke="#1c1c1c" stroke-width="1.1"/>
<circle cx="627.60" cy="122.50" r="4.6" fill="#cf4f4c" stroke="#1c1c1c" stroke-width="1.1"/>
<circle cx="637.60" cy="152.70" r="4.6" fill="#cf4f4c" stroke="#1c1c1c" stroke-width="1.1"/>
<circle cx="656.70" cy="152.50" r="4.6" fill="#cf4f4c" stroke="#1c1c1c" stroke-width="1.1"/>
<circle cx="669.60" cy="156.50" r="4.6" fill="#cf4f4c" stroke="#1c1c1c" stroke-width="1.1"/>
<circle cx="680.80" cy="159.90" r="4.6" fill="#cf4f4c" stroke="#1c1c1c" stroke-width="1.1"/>
<circle cx="687.60" cy="157.80" r="4.6" fill="#cf4f4c" stroke="#1c1c1c" stroke-width="1.1"/>
<circle cx="694.80" cy="154.50" r="4.6" fill="#cf4f4c" stroke="#1c1c1c" stroke-width="1.1"/>
<path d="M586.00 115.60L595.00 116.60L627.60 124.80L637.60 157.70L656.70 168.50L669.60 174.80L680.80 174.00L687.60 169.80L694.80 163.70" fill="none" stroke="#98c05c" stroke-width="2.15" stroke-linejoin="round" clip-path="url(#clipLc)"/>
<path d="M586.00 122.47L591.90 112.17L580.10 112.17Z" fill="#94bf55" stroke="#1c1c1c" stroke-width="1.1" stroke-linejoin="miter"/>
<path d="M595.00 123.47L600.90 113.17L589.10 113.17Z" fill="#94bf55" stroke="#1c1c1c" stroke-width="1.1" stroke-linejoin="miter"/>
<path d="M627.60 131.67L633.50 121.37L621.70 121.37Z" fill="#94bf55" stroke="#1c1c1c" stroke-width="1.1" stroke-linejoin="miter"/>
<path d="M637.60 164.57L643.50 154.27L631.70 154.27Z" fill="#94bf55" stroke="#1c1c1c" stroke-width="1.1" stroke-linejoin="miter"/>
<path d="M656.70 175.37L662.60 165.07L650.80 165.07Z" fill="#94bf55" stroke="#1c1c1c" stroke-width="1.1" stroke-linejoin="miter"/>
<path d="M669.60 181.67L675.50 171.37L663.70 171.37Z" fill="#94bf55" stroke="#1c1c1c" stroke-width="1.1" stroke-linejoin="miter"/>
<path d="M680.80 180.87L686.70 170.57L674.90 170.57Z" fill="#94bf55" stroke="#1c1c1c" stroke-width="1.1" stroke-linejoin="miter"/>
<path d="M687.60 176.67L693.50 166.37L681.70 166.37Z" fill="#94bf55" stroke="#1c1c1c" stroke-width="1.1" stroke-linejoin="miter"/>
<path d="M694.80 170.57L700.70 160.27L688.90 160.27Z" fill="#94bf55" stroke="#1c1c1c" stroke-width="1.1" stroke-linejoin="miter"/>
<path d="M586.00 74.20L595.00 78.80L627.60 94.40L637.60 139.70L656.70 169.60L669.60 175.20L680.80 171.60L687.60 164.90L694.80 156.80" fill="none" stroke="#4070b5" stroke-width="2.15" stroke-linejoin="round" clip-path="url(#clipLc)"/>
<path d="M579.13 74.20L589.43 68.30L589.43 80.10Z" fill="#4a7bc0" stroke="#1c1c1c" stroke-width="1.1" stroke-linejoin="miter"/>
<path d="M588.13 78.80L598.43 72.90L598.43 84.70Z" fill="#4a7bc0" stroke="#1c1c1c" stroke-width="1.1" stroke-linejoin="miter"/>
<path d="M620.73 94.40L631.03 88.50L631.03 100.30Z" fill="#4a7bc0" stroke="#1c1c1c" stroke-width="1.1" stroke-linejoin="miter"/>
<path d="M630.73 139.70L641.03 133.80L641.03 145.60Z" fill="#4a7bc0" stroke="#1c1c1c" stroke-width="1.1" stroke-linejoin="miter"/>
<path d="M649.83 169.60L660.13 163.70L660.13 175.50Z" fill="#4a7bc0" stroke="#1c1c1c" stroke-width="1.1" stroke-linejoin="miter"/>
<path d="M662.73 175.20L673.03 169.30L673.03 181.10Z" fill="#4a7bc0" stroke="#1c1c1c" stroke-width="1.1" stroke-linejoin="miter"/>
<path d="M673.93 171.60L684.23 165.70L684.23 177.50Z" fill="#4a7bc0" stroke="#1c1c1c" stroke-width="1.1" stroke-linejoin="miter"/>
<path d="M680.73 164.90L691.03 159.00L691.03 170.80Z" fill="#4a7bc0" stroke="#1c1c1c" stroke-width="1.1" stroke-linejoin="miter"/>
<path d="M687.93 156.80L698.23 150.90L698.23 162.70Z" fill="#4a7bc0" stroke="#1c1c1c" stroke-width="1.1" stroke-linejoin="miter"/>
<path d="M586.00 190.30L595.00 190.80L627.60 191.80L637.60 208.60L656.70 207.10L669.60 209.10L680.80 212.00L687.60 208.20L694.80 207.20" fill="none" stroke="#9badd6" stroke-width="2.15" stroke-linejoin="round" clip-path="url(#clipLc)"/>
<path d="M592.87 190.30L582.57 184.40L582.57 196.20Z" fill="#8eaadc" stroke="#1c1c1c" stroke-width="1.1" stroke-linejoin="miter"/>
<path d="M601.87 190.80L591.57 184.90L591.57 196.70Z" fill="#8eaadc" stroke="#1c1c1c" stroke-width="1.1" stroke-linejoin="miter"/>
<path d="M634.47 191.80L624.17 185.90L624.17 197.70Z" fill="#8eaadc" stroke="#1c1c1c" stroke-width="1.1" stroke-linejoin="miter"/>
<path d="M644.47 208.60L634.17 202.70L634.17 214.50Z" fill="#8eaadc" stroke="#1c1c1c" stroke-width="1.1" stroke-linejoin="miter"/>
<path d="M663.57 207.10L653.27 201.20L653.27 213.00Z" fill="#8eaadc" stroke="#1c1c1c" stroke-width="1.1" stroke-linejoin="miter"/>
<path d="M676.47 209.10L666.17 203.20L666.17 215.00Z" fill="#8eaadc" stroke="#1c1c1c" stroke-width="1.1" stroke-linejoin="miter"/>
<path d="M687.67 212.00L677.37 206.10L677.37 217.90Z" fill="#8eaadc" stroke="#1c1c1c" stroke-width="1.1" stroke-linejoin="miter"/>
<path d="M694.47 208.20L684.17 202.30L684.17 214.10Z" fill="#8eaadc" stroke="#1c1c1c" stroke-width="1.1" stroke-linejoin="miter"/>
<path d="M701.67 207.20L691.37 201.30L691.37 213.10Z" fill="#8eaadc" stroke="#1c1c1c" stroke-width="1.1" stroke-linejoin="miter"/>
</g><line x1="336.7" y1="221.5" x2="358.5" y2="232.8" stroke="#000" stroke-width="2"/><path d="M365.8 236.6L355.6 237.0L359.9 229.0Z" fill="#000" stroke="#000" stroke-width="0.6" stroke-linejoin="miter"/>
<path d="M47.80 43.50H247.30V242.60" fill="none" stroke="#111" stroke-width="1.45"/>
<line x1="94.50" y1="43.50" x2="94.50" y2="242.60" stroke="#111" stroke-width="1.45" stroke-dasharray="5.8,4.7"/>
<line x1="212.00" y1="43.50" x2="212.00" y2="242.60" stroke="#111" stroke-width="1.45"/>
<path d="M316.90 43.50H516.40V242.60" fill="none" stroke="#111" stroke-width="1.45"/>
<line x1="318.70" y1="43.50" x2="318.70" y2="242.60" stroke="#111" stroke-width="1.45" stroke-dasharray="5.8,4.7"/>
<line x1="459.80" y1="43.50" x2="459.80" y2="242.60" stroke="#111" stroke-width="1.45"/>
<path d="M586.00 43.50H785.50V242.60" fill="none" stroke="#111" stroke-width="1.45"/>
<line x1="594.80" y1="43.50" x2="594.80" y2="242.60" stroke="#111" stroke-width="1.45" stroke-dasharray="5.8,4.7"/>
<line x1="670.70" y1="43.50" x2="670.70" y2="242.60" stroke="#111" stroke-width="1.45"/>
<line x1="47.80" y1="42.90" x2="47.80" y2="247.60" stroke="#111" stroke-width="1.45"/>
<line x1="42.30" y1="242.60" x2="247.90" y2="242.60" stroke="#111" stroke-width="1.45"/>
<line x1="42.30" y1="242.60" x2="47.80" y2="242.60" stroke="#111" stroke-width="1.45"/>
<line x1="43.80" y1="222.69" x2="47.80" y2="222.69" stroke="#111" stroke-width="1.45"/>
<line x1="42.30" y1="202.78" x2="47.80" y2="202.78" stroke="#111" stroke-width="1.45"/>
<line x1="43.80" y1="182.87" x2="47.80" y2="182.87" stroke="#111" stroke-width="1.45"/>
<line x1="42.30" y1="162.96" x2="47.80" y2="162.96" stroke="#111" stroke-width="1.45"/>
<line x1="43.80" y1="143.05" x2="47.80" y2="143.05" stroke="#111" stroke-width="1.45"/>
<line x1="42.30" y1="123.14" x2="47.80" y2="123.14" stroke="#111" stroke-width="1.45"/>
<line x1="43.80" y1="103.23" x2="47.80" y2="103.23" stroke="#111" stroke-width="1.45"/>
<line x1="42.30" y1="83.32" x2="47.80" y2="83.32" stroke="#111" stroke-width="1.45"/>
<line x1="43.80" y1="63.41" x2="47.80" y2="63.41" stroke="#111" stroke-width="1.45"/>
<line x1="42.30" y1="43.50" x2="47.80" y2="43.50" stroke="#111" stroke-width="1.45"/>
<line x1="47.80" y1="242.60" x2="47.80" y2="247.60" stroke="#111" stroke-width="1.45"/>
<line x1="76.30" y1="242.60" x2="76.30" y2="246.10" stroke="#111" stroke-width="1.45"/>
<line x1="104.80" y1="242.60" x2="104.80" y2="247.60" stroke="#111" stroke-width="1.45"/>
<line x1="133.30" y1="242.60" x2="133.30" y2="246.10" stroke="#111" stroke-width="1.45"/>
<line x1="161.80" y1="242.60" x2="161.80" y2="247.60" stroke="#111" stroke-width="1.45"/>
<line x1="190.30" y1="242.60" x2="190.30" y2="246.10" stroke="#111" stroke-width="1.45"/>
<line x1="218.80" y1="242.60" x2="218.80" y2="247.60" stroke="#111" stroke-width="1.45"/>
<line x1="247.30" y1="242.60" x2="247.30" y2="246.10" stroke="#111" stroke-width="1.45"/>
<text x="38.70" y="247.80" text-anchor="end" class="tk">0</text>
<text x="38.70" y="207.98" text-anchor="end" class="tk">1</text>
<text x="38.70" y="168.16" text-anchor="end" class="tk">2</text>
<text x="38.70" y="128.34" text-anchor="end" class="tk">3</text>
<text x="38.70" y="88.52" text-anchor="end" class="tk">4</text>
<text x="38.70" y="48.70" text-anchor="end" class="tk">5</text>
<text x="47.80" y="263.90" text-anchor="middle" class="tk">0</text>
<text x="104.80" y="263.90" text-anchor="middle" class="tk">96</text>
<text x="161.80" y="263.90" text-anchor="middle" class="tk">192</text>
<text x="218.80" y="263.90" text-anchor="middle" class="tk">288</text>
<text x="147.80" y="290.9" text-anchor="middle" class="tt">Cultivation time (h)</text>
<text transform="translate(11.80,143.1) rotate(-90)" text-anchor="middle" class="yt">Amino acid concentration (mM)</text>
<line x1="316.90" y1="42.90" x2="316.90" y2="247.60" stroke="#111" stroke-width="1.45"/>
<line x1="311.40" y1="242.60" x2="517.00" y2="242.60" stroke="#111" stroke-width="1.45"/>
<line x1="311.40" y1="242.60" x2="316.90" y2="242.60" stroke="#111" stroke-width="1.45"/>
<line x1="312.90" y1="222.69" x2="316.90" y2="222.69" stroke="#111" stroke-width="1.45"/>
<line x1="311.40" y1="202.78" x2="316.90" y2="202.78" stroke="#111" stroke-width="1.45"/>
<line x1="312.90" y1="182.87" x2="316.90" y2="182.87" stroke="#111" stroke-width="1.45"/>
<line x1="311.40" y1="162.96" x2="316.90" y2="162.96" stroke="#111" stroke-width="1.45"/>
<line x1="312.90" y1="143.05" x2="316.90" y2="143.05" stroke="#111" stroke-width="1.45"/>
<line x1="311.40" y1="123.14" x2="316.90" y2="123.14" stroke="#111" stroke-width="1.45"/>
<line x1="312.90" y1="103.23" x2="316.90" y2="103.23" stroke="#111" stroke-width="1.45"/>
<line x1="311.40" y1="83.32" x2="316.90" y2="83.32" stroke="#111" stroke-width="1.45"/>
<line x1="312.90" y1="63.41" x2="316.90" y2="63.41" stroke="#111" stroke-width="1.45"/>
<line x1="311.40" y1="43.50" x2="316.90" y2="43.50" stroke="#111" stroke-width="1.45"/>
<line x1="316.90" y1="242.60" x2="316.90" y2="247.60" stroke="#111" stroke-width="1.45"/>
<line x1="345.40" y1="242.60" x2="345.40" y2="246.10" stroke="#111" stroke-width="1.45"/>
<line x1="373.90" y1="242.60" x2="373.90" y2="247.60" stroke="#111" stroke-width="1.45"/>
<line x1="402.40" y1="242.60" x2="402.40" y2="246.10" stroke="#111" stroke-width="1.45"/>
<line x1="430.90" y1="242.60" x2="430.90" y2="247.60" stroke="#111" stroke-width="1.45"/>
<line x1="459.40" y1="242.60" x2="459.40" y2="246.10" stroke="#111" stroke-width="1.45"/>
<line x1="487.90" y1="242.60" x2="487.90" y2="247.60" stroke="#111" stroke-width="1.45"/>
<line x1="516.40" y1="242.60" x2="516.40" y2="246.10" stroke="#111" stroke-width="1.45"/>
<text x="307.80" y="247.80" text-anchor="end" class="tk">0</text>
<text x="307.80" y="207.98" text-anchor="end" class="tk">1</text>
<text x="307.80" y="168.16" text-anchor="end" class="tk">2</text>
<text x="307.80" y="128.34" text-anchor="end" class="tk">3</text>
<text x="307.80" y="88.52" text-anchor="end" class="tk">4</text>
<text x="307.80" y="48.70" text-anchor="end" class="tk">5</text>
<text x="316.90" y="263.90" text-anchor="middle" class="tk">0</text>
<text x="373.90" y="263.90" text-anchor="middle" class="tk">96</text>
<text x="430.90" y="263.90" text-anchor="middle" class="tk">192</text>
<text x="487.90" y="263.90" text-anchor="middle" class="tk">288</text>
<text x="416.90" y="290.9" text-anchor="middle" class="tt">Cultivation time (h)</text>
<text transform="translate(280.90,143.1) rotate(-90)" text-anchor="middle" class="yt">Amino acid concentration (mM)</text>
<line x1="586.00" y1="42.90" x2="586.00" y2="247.60" stroke="#111" stroke-width="1.45"/>
<line x1="580.50" y1="242.60" x2="786.10" y2="242.60" stroke="#111" stroke-width="1.45"/>
<line x1="580.50" y1="242.60" x2="586.00" y2="242.60" stroke="#111" stroke-width="1.45"/>
<line x1="582.00" y1="222.69" x2="586.00" y2="222.69" stroke="#111" stroke-width="1.45"/>
<line x1="580.50" y1="202.78" x2="586.00" y2="202.78" stroke="#111" stroke-width="1.45"/>
<line x1="582.00" y1="182.87" x2="586.00" y2="182.87" stroke="#111" stroke-width="1.45"/>
<line x1="580.50" y1="162.96" x2="586.00" y2="162.96" stroke="#111" stroke-width="1.45"/>
<line x1="582.00" y1="143.05" x2="586.00" y2="143.05" stroke="#111" stroke-width="1.45"/>
<line x1="580.50" y1="123.14" x2="586.00" y2="123.14" stroke="#111" stroke-width="1.45"/>
<line x1="582.00" y1="103.23" x2="586.00" y2="103.23" stroke="#111" stroke-width="1.45"/>
<line x1="580.50" y1="83.32" x2="586.00" y2="83.32" stroke="#111" stroke-width="1.45"/>
<line x1="582.00" y1="63.41" x2="586.00" y2="63.41" stroke="#111" stroke-width="1.45"/>
<line x1="580.50" y1="43.50" x2="586.00" y2="43.50" stroke="#111" stroke-width="1.45"/>
<line x1="586.00" y1="242.60" x2="586.00" y2="247.60" stroke="#111" stroke-width="1.45"/>
<line x1="614.50" y1="242.60" x2="614.50" y2="246.10" stroke="#111" stroke-width="1.45"/>
<line x1="643.00" y1="242.60" x2="643.00" y2="247.60" stroke="#111" stroke-width="1.45"/>
<line x1="671.50" y1="242.60" x2="671.50" y2="246.10" stroke="#111" stroke-width="1.45"/>
<line x1="700.00" y1="242.60" x2="700.00" y2="247.60" stroke="#111" stroke-width="1.45"/>
<line x1="728.50" y1="242.60" x2="728.50" y2="246.10" stroke="#111" stroke-width="1.45"/>
<line x1="757.00" y1="242.60" x2="757.00" y2="247.60" stroke="#111" stroke-width="1.45"/>
<line x1="785.50" y1="242.60" x2="785.50" y2="246.10" stroke="#111" stroke-width="1.45"/>
<text x="576.90" y="247.80" text-anchor="end" class="tk">0</text>
<text x="576.90" y="207.98" text-anchor="end" class="tk">1</text>
<text x="576.90" y="168.16" text-anchor="end" class="tk">2</text>
<text x="576.90" y="128.34" text-anchor="end" class="tk">3</text>
<text x="576.90" y="88.52" text-anchor="end" class="tk">4</text>
<text x="576.90" y="48.70" text-anchor="end" class="tk">5</text>
<text x="586.00" y="263.90" text-anchor="middle" class="tk">0</text>
<text x="643.00" y="263.90" text-anchor="middle" class="tk">96</text>
<text x="700.00" y="263.90" text-anchor="middle" class="tk">192</text>
<text x="757.00" y="263.90" text-anchor="middle" class="tk">288</text>
<text x="686.00" y="290.9" text-anchor="middle" class="tt">Cultivation time (h)</text>
<text transform="translate(550.00,143.1) rotate(-90)" text-anchor="middle" class="yt">Amino acid concentration (mM)</text>
<text x="0.5" y="18.1" class="pl">a</text>
<text x="268.6" y="18.1" class="pl">b</text>
<text x="538.0" y="18.1" class="pl">c</text>
</svg></body></html>
